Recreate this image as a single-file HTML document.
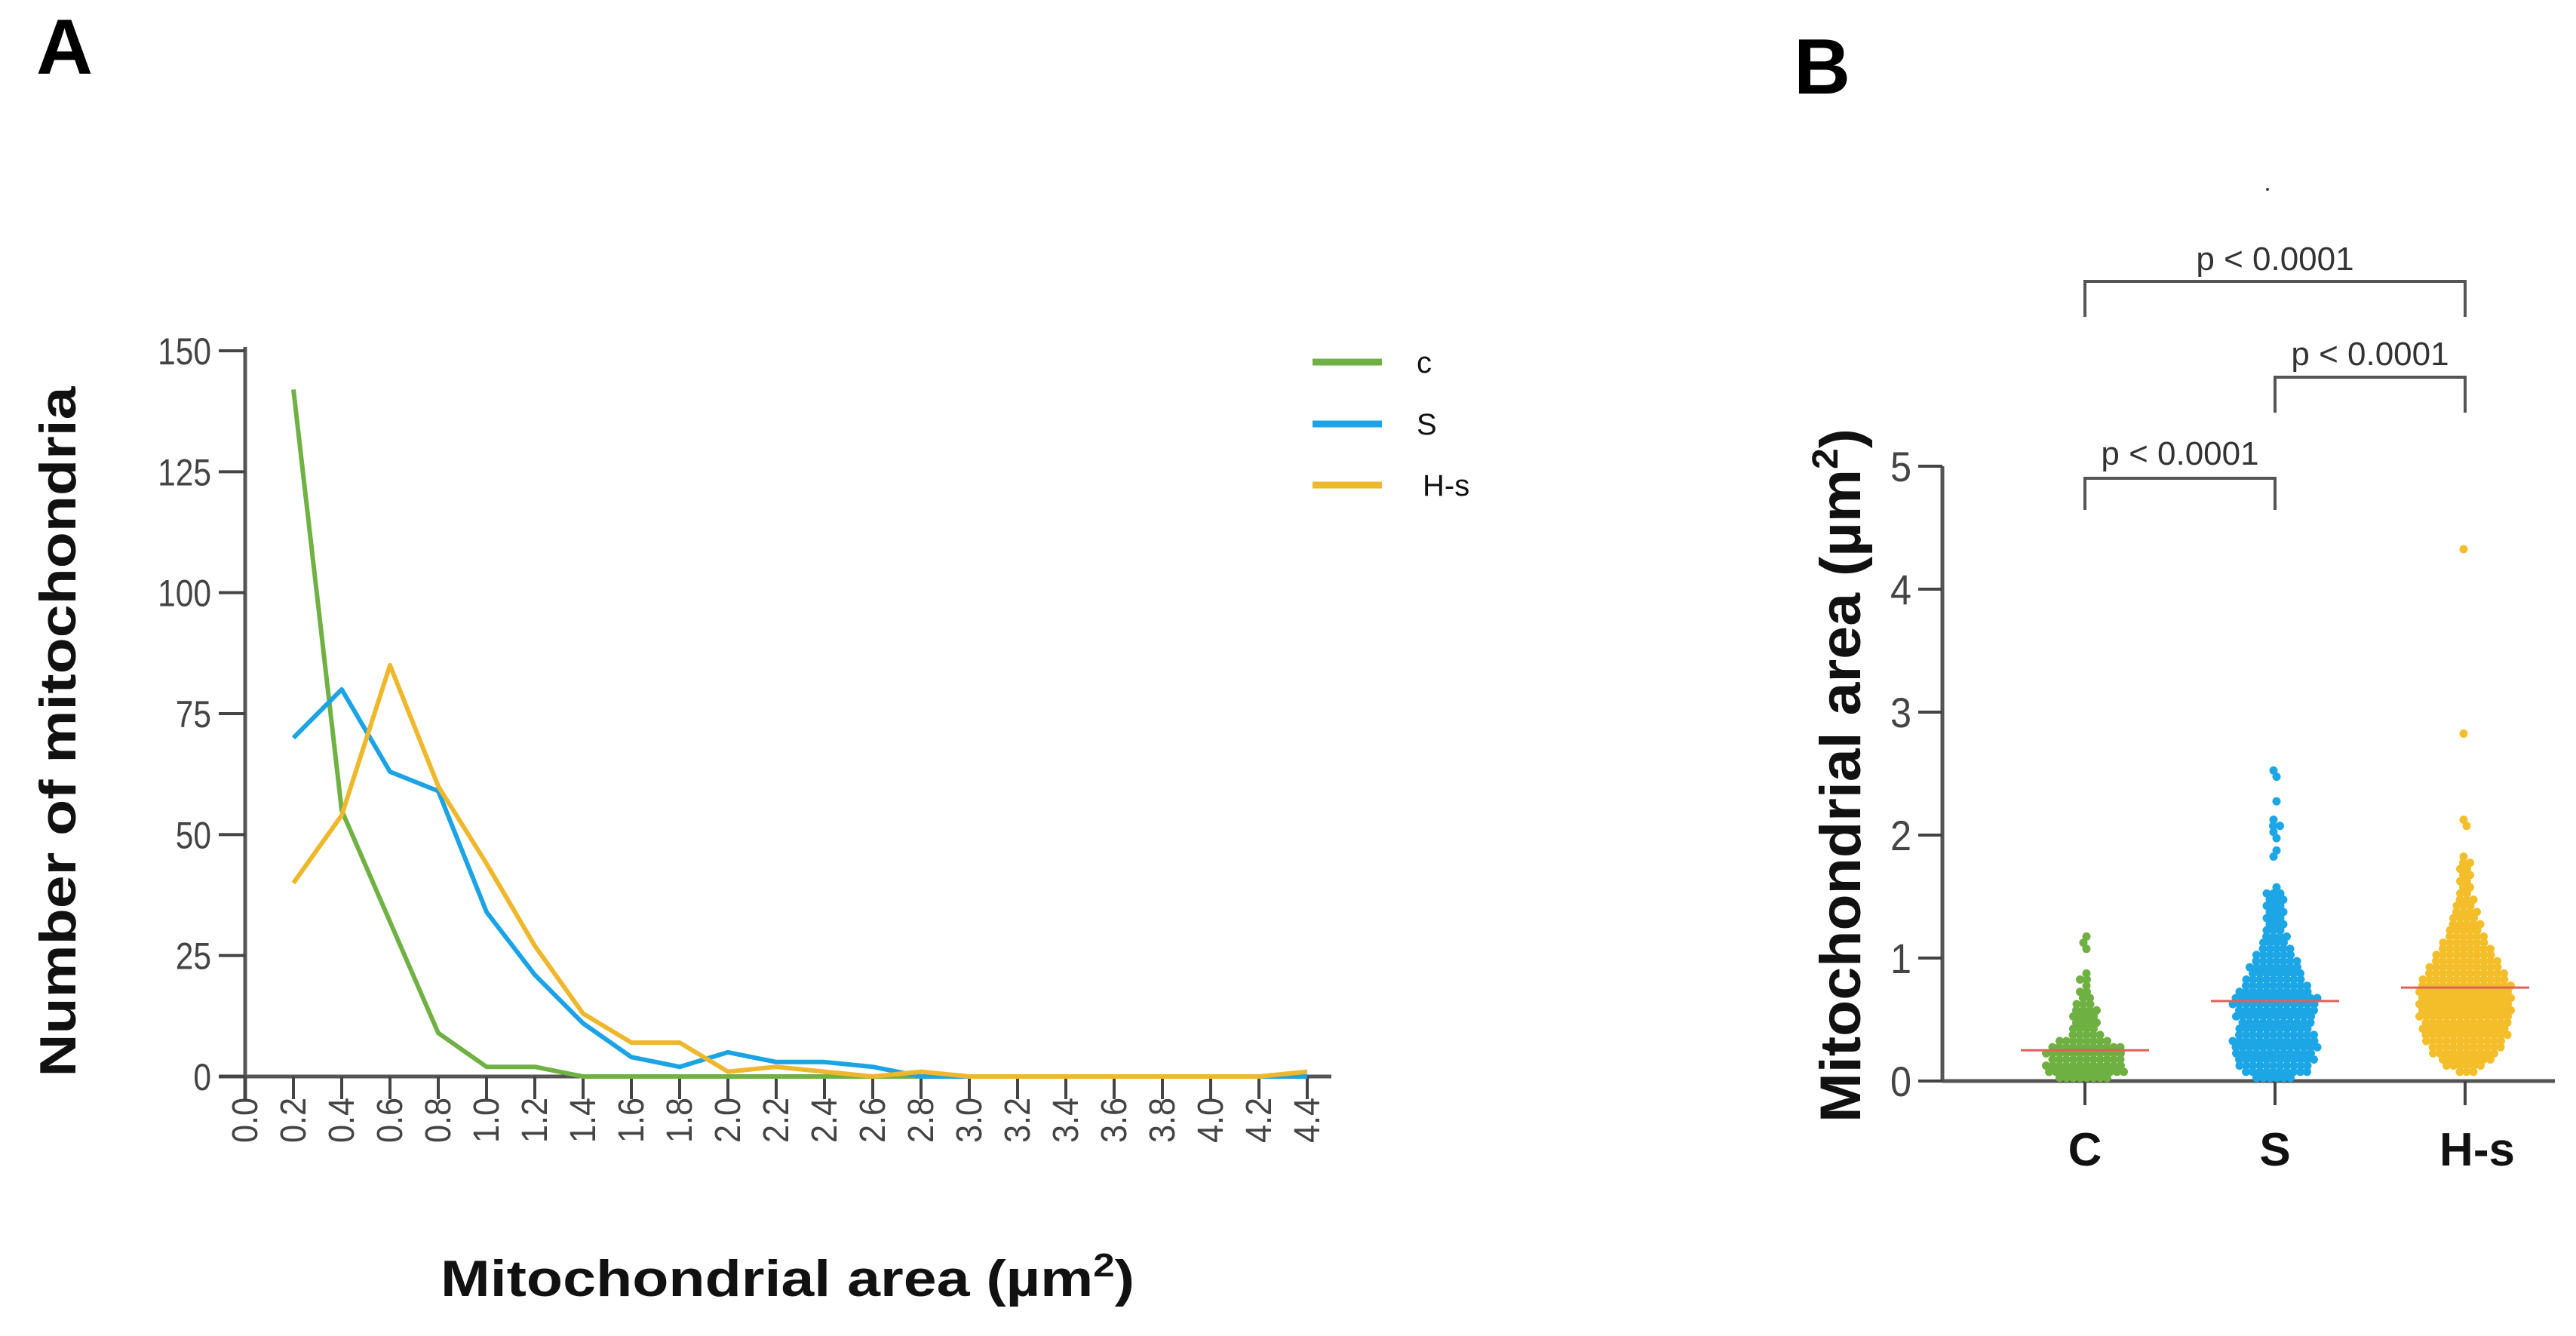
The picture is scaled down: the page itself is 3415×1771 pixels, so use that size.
<!DOCTYPE html>
<html><head><meta charset="utf-8"><style>
html,body{margin:0;padding:0;background:#fff;}
svg{display:block;}
text{font-family:"Liberation Sans",sans-serif;}
</style></head><body>
<svg id="fig" width="3415" height="1771" viewBox="0 0 3415 1771" xmlns="http://www.w3.org/2000/svg">
<text x="48" y="98" font-size="104" font-weight="bold" fill="#000">A</text>
<text x="2378" y="124" font-size="104" font-weight="bold" fill="#000">B</text>
<g id="pa"></g>
<g id="pb"></g>
</svg>
<script>
// ---------- Panel A data ----------
const aXTicks = ["0.0","0.2","0.4","0.6","0.8","1.0","1.2","1.4","1.6","1.8","2.0","2.2","2.4","2.6","2.8","3.0","3.2","3.4","3.6","3.8","4.0","4.2","4.4"];
const aYTicks = [0,25,50,75,100,125,150];
const aBins = [0.2,0.4,0.6,0.8,1.0,1.2,1.4,1.6,1.8,2.0,2.2,2.4,2.6,2.8,3.0,3.2,3.4,3.6,3.8,4.0,4.2,4.4];
const seriesC = [142,55,32,9,2,2,0,0,0,0,0,0,0,0,0,0,0,0,0,0,0,0];
const seriesS = [70,80,63,59,34,21,11,4,2,5,3,3,2,0,0,0,0,0,0,0,0,0];
const seriesHs = [40,54,85,60,44,27,13,7,7,1,2,1,0,1,0,0,0,0,0,0,0,1];
const aSeriesNames = ["c","S","H-s"];

// ---------- Panel B data (counts per 0.05 bin, starting at 0) ----------
const bCategories = ["C","S","H-s"];
const bYTicks = [0,1,2,3,4,5];
const binsC = [8,12,12,11,12,11,8,5,4,4,4,4,3,2,2,1,2,1,0,0,0,1,1,1];
const binsS = [6,10,11,12,12,13,13,12,11,11,12,12,13,13,11,10,9,8,8,7,6,5,4,4,3,3,3,3,3,3,3,1,0,0,0,0,1,1,0,1,1,2,1,0,0,1,0,0,0,1,1];
const binsHs = [0,3,6,8,10,11,12,13,13,13,14,14,14,14,14,14,13,12,11,10,9,8,7,6,5,5,4,4,3,3,2,2,2,2,2,2,1,0,0,0,0,1,1,0,0,0,0,0,0,0,0,0,0,0,0,0,1,0,0,0,0,0,0,0,0,0,0,0,0,0,0,0,0,0,0,0,0,0,0,0,0,0,0,0,0,0,1];
const bMeans = [0.25,0.65,0.76];
const bPValues = ["p < 0.0001","p < 0.0001","p < 0.0001"];

const NS="http://www.w3.org/2000/svg";
function mk(tag,attrs,parent,txt){const e=document.createElementNS(NS,tag);for(const k in attrs)e.setAttribute(k,attrs[k]);if(txt!==undefined)e.textContent=txt;parent.appendChild(e);return e;}

// ---------- Panel A ----------
const pa=document.getElementById('pa');
const ax0=325, axStep=64, ay0=1427, ay150=465;
const axX=v=>ax0+(v/0.2)*axStep;
const ayY=v=>ay0-(v/150)*(ay0-ay150);
let e;
e=mk('line',{x1:ax0,y1:ay150-5,x2:ax0,y2:ay0+30,stroke:'#555','stroke-width':5},pa);

e=mk('line',{x1:ax0-35,y1:ay0,x2:1765,y2:ay0,stroke:'#555','stroke-width':5},pa);

aYTicks.forEach(v=>{
  const y=ayY(v);
  const t=mk('line',{x1:ax0-35,y1:y,x2:ax0,y2:y,stroke:'#444','stroke-width':4},pa);
  
  const l=mk('text',{x:0,y:0,'font-size':50,fill:'#444','text-anchor':'end',transform:`translate(280,${y+18}) scale(0.85,1)`},pa,String(v));
  
});
aXTicks.forEach((s,i)=>{
  const x=ax0+i*axStep;
  const t=mk('line',{x1:x,y1:ay0,x2:x,y2:ay0+30,stroke:'#444','stroke-width':4},pa);
  
  const l=mk('text',{x:0,y:0,'font-size':48,fill:'#444','text-anchor':'end',transform:`translate(${x+16},1455) rotate(-90) scale(0.9,1)`},pa,s);
  
});
const aColors=['#6fb243','#1ba3e6','#efb72c'];
[seriesC,seriesS,seriesHs].forEach((ser,si)=>{
  const pts=ser.map((v,i)=>axX(aBins[i]).toFixed(1)+','+ayY(v).toFixed(1)).join(' ');
  const p=mk('polyline',{points:pts,fill:'none',stroke:aColors[si],'stroke-width':6,'stroke-linejoin':'round'},pa);
  
});
const legY=[480,562,643];
aSeriesNames.forEach((n,i)=>{
  const g=mk('g',{},pa);
  
  mk('line',{x1:1740,y1:legY[i],x2:1832,y2:legY[i],stroke:aColors[i],'stroke-width':9},g);
  mk('text',{x:n==='H-s'?1886:1878,y:legY[i]+14,'font-size':40,fill:'#111'},g,n);
});
e=mk('text',{x:0,y:0,'font-size':68,'font-weight':'bold',fill:'#111','text-anchor':'middle',textLength:915,lengthAdjust:'spacingAndGlyphs',transform:'translate(100,970) rotate(-90)'},pa,'Number of mitochondria');

e=mk('text',{x:584,y:1718,'font-size':68,'font-weight':'bold',fill:'#111',textLength:920,lengthAdjust:'spacingAndGlyphs'},pa);

e.appendChild(document.createTextNode('Mitochondrial area (µm'));
mk('tspan',{'font-size':44,dy:-26},e,'2');
mk('tspan',{dy:26},e,')');

// ---------- Panel B ----------
const pb=document.getElementById('pb');
const bx0=2575, by0=1433, by5=618, bxEnd=3387;
const bY=v=>by0-(v/5)*(by0-by5);
const bCatX=[2764,3016,3268];
e=mk('line',{x1:bx0,y1:by5,x2:bx0,y2:by0,stroke:'#555','stroke-width':5},pb);

e=mk('line',{x1:bx0,y1:by0,x2:bxEnd,y2:by0,stroke:'#555','stroke-width':5},pb);

bYTicks.forEach(v=>{
  const y=bY(v);
  const t=mk('line',{x1:bx0-32,y1:y,x2:bx0,y2:y,stroke:'#444','stroke-width':4},pb);
  
  const l=mk('text',{x:0,y:0,'font-size':56,fill:'#444','text-anchor':'middle',transform:`translate(2520,${y+20}) scale(0.9,1)`},pb,String(v));
  
});
const bColors=['#6fb043','#1da6e6','#f4be2b'];
[binsC,binsS,binsHs].forEach((bins,ci)=>{
  const cx=bCatX[ci];
  const t=mk('line',{x1:cx,y1:by0,x2:cx,y2:by0+32,stroke:'#444','stroke-width':4},pb);
  
  const g=mk('g',{fill:bColors[ci]},pb);
  
  bins.forEach((n,bi)=>{
    const y=bY(bi*0.05+0.025);
    for(let k=0;k<n;k++){
      const dx=(k-(n-1)/2)*9 + ((bi%2)?2:-2);
      mk('circle',{cx:(cx+dx).toFixed(1),cy:y.toFixed(1),r:5.5},g);
    }
  });
  const m=mk('line',{x1:cx-85,y1:bY(bMeans[ci]),x2:cx+85,y2:bY(bMeans[ci]),stroke:'#e0605a','stroke-width':3},pb);
  
  const l=mk('text',{x:cx+(ci===2?16:0),y:1545,'font-size':62,'font-weight':'bold',fill:'#111','text-anchor':'middle'},pb,bCategories[ci]);
  
});
const brk=[[0,2,373,420,358],[1,2,500,547,484],[0,1,634,676,616]];
brk.forEach((b,i)=>{
  const x1=bCatX[b[0]], x2=bCatX[b[1]];
  const g=mk('g',{},pb);
  
  mk('polyline',{points:`${x1},${b[3]} ${x1},${b[2]} ${x2},${b[2]} ${x2},${b[3]}`,fill:'none',stroke:'#555','stroke-width':4},g);
  mk('text',{x:(x1+x2)/2,y:b[4],'font-size':44,fill:'#333','text-anchor':'middle'},g,bPValues[i]);
});
e=mk('text',{x:0,y:0,'font-size':76,'font-weight':'bold',fill:'#111','text-anchor':'middle',textLength:920,lengthAdjust:'spacingAndGlyphs',transform:'translate(2466,1028) rotate(-90)'},pb);

e.appendChild(document.createTextNode('Mitochondrial area (µm'));
mk('tspan',{'font-size':48,dy:-30},e,'2');
mk('tspan',{dy:30},e,')');
mk('circle',{cx:3006,cy:251,r:2,fill:'#444'},pb);
</script>
</body></html>
